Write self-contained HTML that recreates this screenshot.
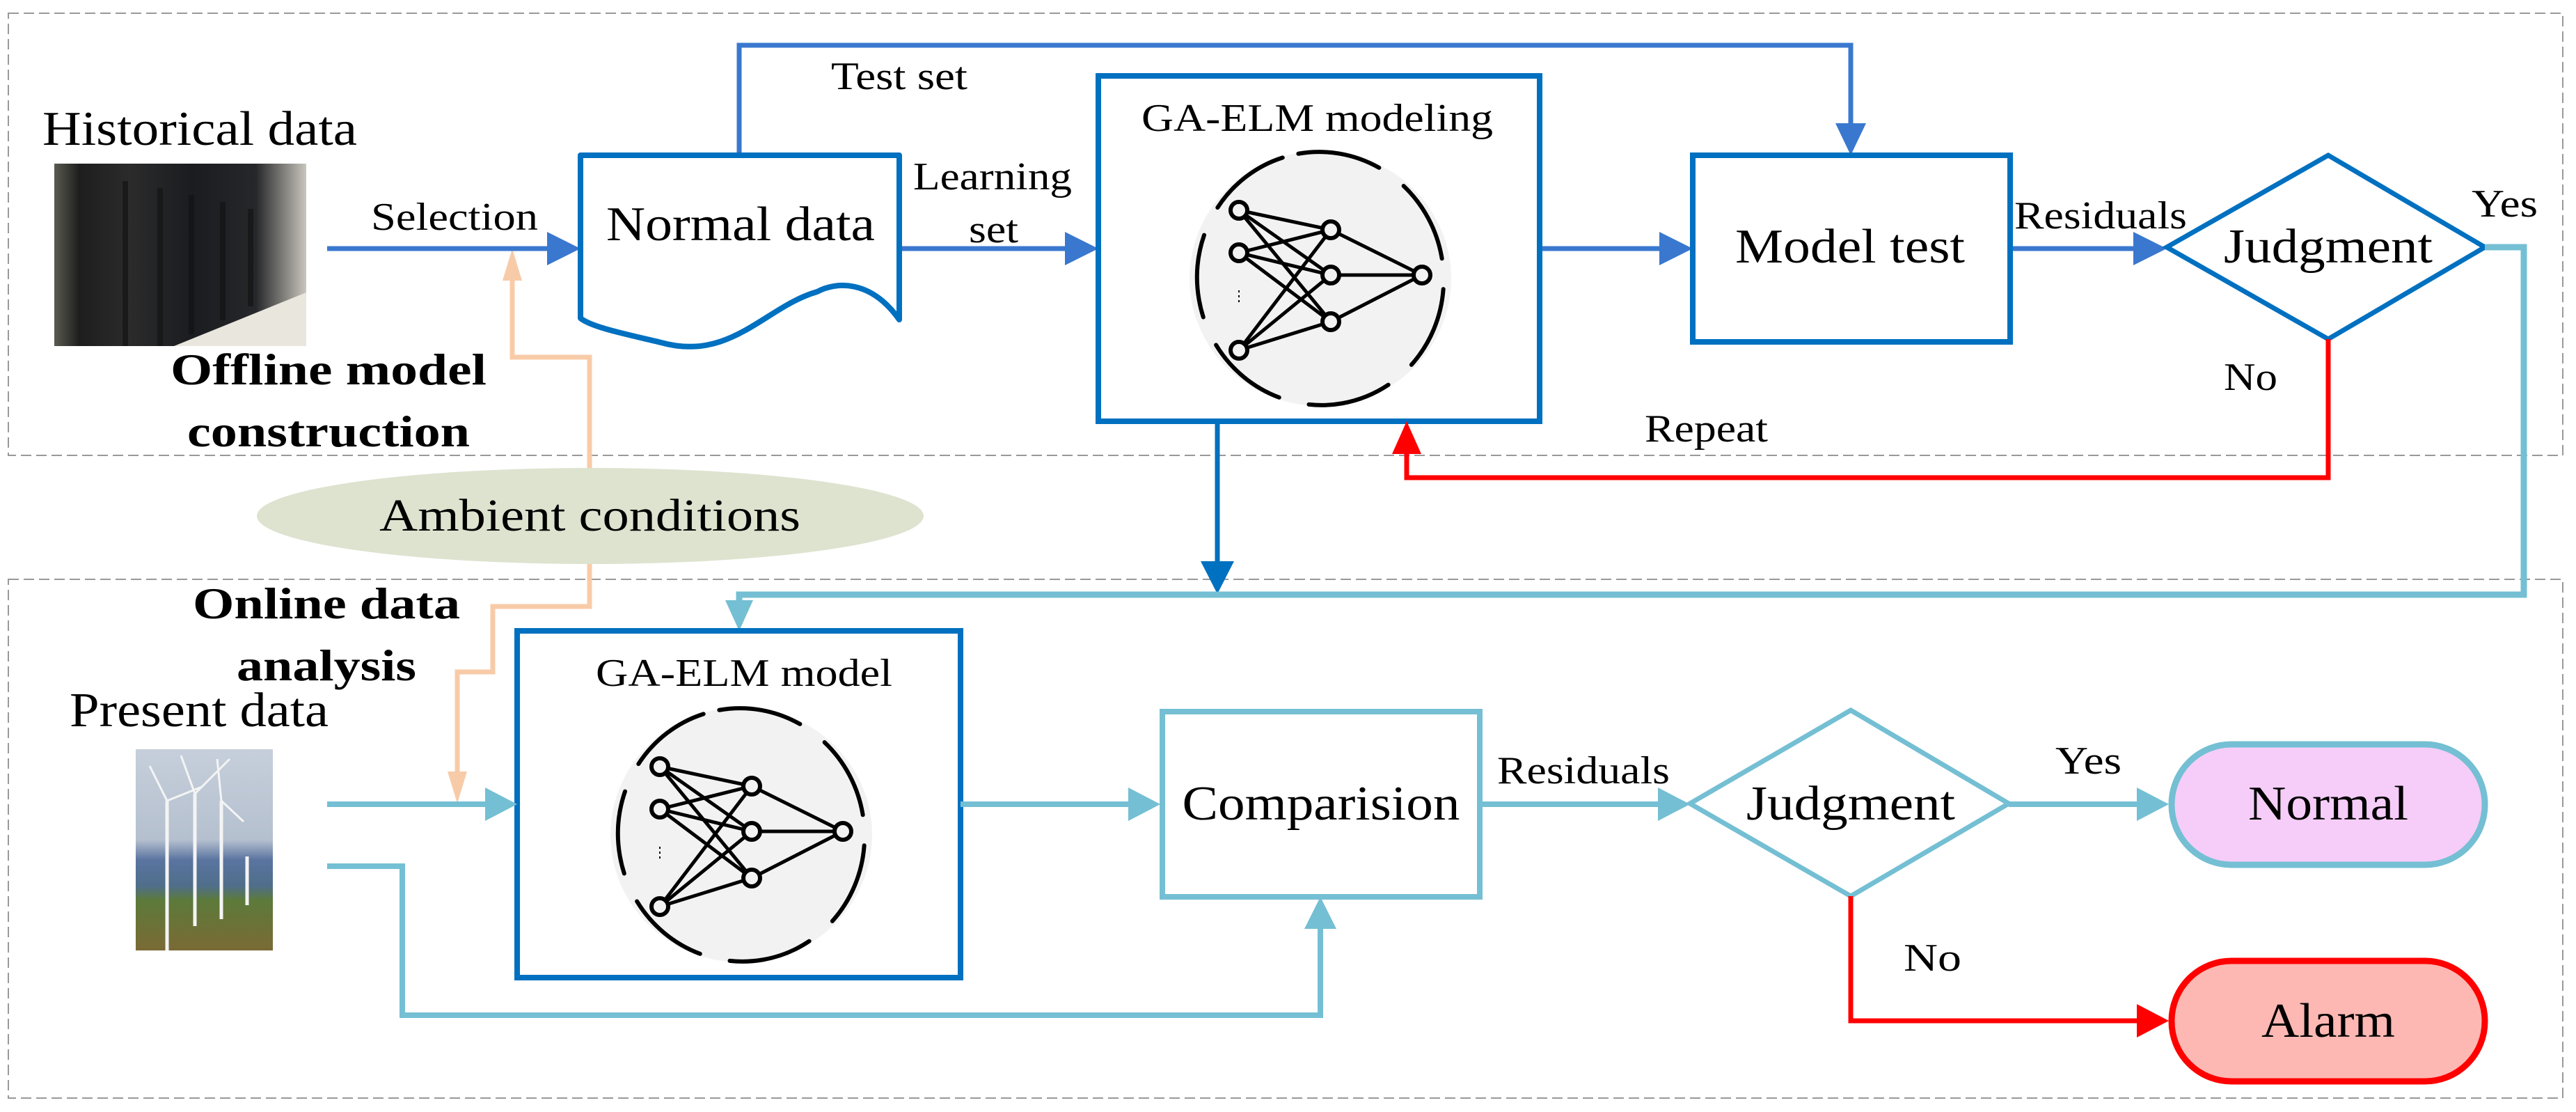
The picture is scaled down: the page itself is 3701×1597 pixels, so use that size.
<!DOCTYPE html>
<html><head><meta charset="utf-8"><style>html,body{margin:0;padding:0;background:#fff}svg{display:block}text{font-family:"Liberation Serif",serif;fill:#000}</style></head><body>
<svg width="3701" height="1597" viewBox="0 0 3701 1597" xmlns="http://www.w3.org/2000/svg">
<defs>
<linearGradient id="srv" x1="0" y1="0" x2="1" y2="0">
<stop offset="0" stop-color="#5a5a50"/><stop offset="0.1" stop-color="#1e1e1e"/><stop offset="0.3" stop-color="#2b2b2b"/><stop offset="0.55" stop-color="#1a1c20"/><stop offset="0.8" stop-color="#26272a"/><stop offset="1" stop-color="#c9c6bc"/>
</linearGradient>
<linearGradient id="wind" x1="0" y1="0" x2="0" y2="1">
<stop offset="0" stop-color="#c6cfdb"/><stop offset="0.45" stop-color="#b5c0cf"/><stop offset="0.55" stop-color="#5a74a0"/><stop offset="0.68" stop-color="#4f6e8a"/><stop offset="0.75" stop-color="#5c7a3a"/><stop offset="1" stop-color="#7a6a35"/>
</linearGradient>
<g id="nn">
<ellipse cx="0" cy="0" rx="188" ry="183" fill="#f2f2f2"/>
<ellipse cx="0" cy="0" rx="182" ry="177" fill="none" stroke="#000" stroke-width="6" stroke-linecap="round" stroke-dasharray="120 44" transform="rotate(-100)"/>
<g stroke="#000" stroke-width="5" fill="none">
<path d="M-117 -98L15 -70M-117 -98L15 -5M-117 -98L15 62M-117 -37L15 -70M-117 -37L15 -5M-117 -37L15 62M-117 103L15 -70M-117 103L15 -5M-117 103L15 62M15 -70L146 -5M15 -5L146 -5M15 62L146 -5"/>
</g>
<g fill="#f2f2f2" stroke="#000" stroke-width="6">
<circle cx="-117" cy="-98" r="12"/><circle cx="-117" cy="-37" r="12"/><circle cx="-117" cy="103" r="12"/>
<circle cx="15" cy="-70" r="12"/><circle cx="15" cy="-5" r="12"/><circle cx="15" cy="62" r="12"/>
<circle cx="146" cy="-5" r="12"/>
</g>
<g fill="#000"><rect x="-118" y="17" width="2" height="3"/><rect x="-118" y="24" width="2" height="3"/><rect x="-118" y="31" width="2" height="3"/></g>
</g>
</defs>

<!-- dashed regions -->
<rect x="12" y="19" width="3670" height="635" fill="none" stroke="#999" stroke-width="2" stroke-dasharray="15 7"/>
<rect x="12" y="832" width="3670" height="745" fill="none" stroke="#999" stroke-width="2" stroke-dasharray="15 7"/>

<!-- images -->
<rect x="78" y="235" width="362" height="262" fill="url(#srv)"/>
<g stroke="#111" stroke-width="8" opacity="0.6"><line x1="180" y1="260" x2="180" y2="497"/><line x1="230" y1="270" x2="230" y2="497"/><line x1="275" y1="280" x2="275" y2="480"/><line x1="320" y1="290" x2="320" y2="460"/><line x1="360" y1="300" x2="360" y2="440"/></g>
<polygon points="250,497 440,420 440,497" fill="#e9e6de"/>
<rect x="195" y="1076" width="197" height="289" fill="url(#wind)"/>
<g stroke="#f4f4f4" stroke-width="5"><line x1="240" y1="1150" x2="240" y2="1365"/><line x1="280" y1="1140" x2="280" y2="1330"/><line x1="318" y1="1150" x2="318" y2="1320"/><line x1="355" y1="1230" x2="355" y2="1300"/></g>
<g stroke="#f4f4f4" stroke-width="3"><line x1="240" y1="1150" x2="215" y2="1100"/><line x1="240" y1="1150" x2="290" y2="1130"/><line x1="280" y1="1140" x2="260" y2="1085"/><line x1="280" y1="1140" x2="330" y2="1090"/><line x1="318" y1="1150" x2="350" y2="1180"/><line x1="318" y1="1150" x2="312" y2="1090"/></g>

<!-- texts left -->
<text x="61" y="208" font-size="70" textLength="452" lengthAdjust="spacingAndGlyphs">Historical data</text>
<text x="100" y="1043" font-size="70" textLength="372" lengthAdjust="spacingAndGlyphs">Present data</text>
<text x="245" y="552" font-size="64" font-weight="bold" textLength="454" lengthAdjust="spacingAndGlyphs">Offline model</text>
<text x="269" y="641" font-size="64" font-weight="bold" textLength="406" lengthAdjust="spacingAndGlyphs">construction</text>
<text x="277" y="888" font-size="64" font-weight="bold" textLength="384" lengthAdjust="spacingAndGlyphs">Online data</text>
<text x="340" y="977" font-size="64" font-weight="bold" textLength="258" lengthAdjust="spacingAndGlyphs">analysis</text>

<!-- ambient -->
<ellipse cx="848" cy="741" rx="479" ry="69" fill="#dde3cf"/>
<text x="545" y="762" font-size="66" textLength="605" lengthAdjust="spacingAndGlyphs">Ambient conditions</text>
<g fill="none" stroke="#f8cba8" stroke-width="7">
<polyline points="847,672 847,513 736,513 736,395"/>
<polyline points="847,810 847,871 708,871 708,965 657,965 657,1120"/>
</g>
<polygon points="736,357 722,403 750,403" fill="#f8cba8"/>
<polygon points="657,1154 643,1108 671,1108" fill="#f8cba8"/>

<!-- top flow -->
<g fill="none" stroke="#3a78cf" stroke-width="7">
<line x1="470" y1="357" x2="790" y2="357"/>
<polyline points="1062,223 1062,65 2659,65 2659,185"/>
<line x1="1292" y1="357" x2="1535" y2="357"/>
<line x1="2212" y1="357" x2="2392" y2="357"/>
<line x1="2888" y1="357" x2="3073" y2="357"/>
</g>
<g fill="#3a78cf">
<polygon points="834,357 786,333 786,381"/>
<polygon points="1578,357 1530,333 1530,381"/>
<polygon points="2432,357 2384,333 2384,381"/>
<polygon points="3113,357 3065,333 3065,381"/>
<polygon points="2659,223 2637,177 2681,177"/>
</g>

<!-- normal data doc -->
<path d="M834 223 L1292 223 L1292 459 C1250 400 1200 405 1174 419 C1100 440 1050 520 950 492 C900 480 850 470 834 457 Z" fill="#fff" stroke="#0070c0" stroke-width="8" stroke-linejoin="round"/>
<text x="871" y="345" font-size="70" textLength="386" lengthAdjust="spacingAndGlyphs">Normal data</text>

<text x="533" y="330" font-size="56" textLength="240" lengthAdjust="spacingAndGlyphs">Selection</text>
<text x="1194" y="128" font-size="56" textLength="196" lengthAdjust="spacingAndGlyphs">Test set</text>
<text x="1312" y="272" font-size="56" textLength="228" lengthAdjust="spacingAndGlyphs">Learning</text>
<text x="1392" y="348" font-size="56" textLength="71" lengthAdjust="spacingAndGlyphs">set</text>

<!-- GA-ELM modeling -->
<rect x="1578" y="109" width="634" height="496" fill="#fff" stroke="#0070c0" stroke-width="8"/>
<text x="1640" y="188" font-size="56" textLength="505" lengthAdjust="spacingAndGlyphs">GA-ELM modeling</text>
<use href="#nn" transform="translate(1897,400)"/>

<!-- model test -->
<rect x="2432" y="223" width="456" height="268" fill="#fff" stroke="#0070c0" stroke-width="8"/>
<text x="2658" y="377" font-size="70" text-anchor="middle" textLength="330" lengthAdjust="spacingAndGlyphs">Model test</text>
<text x="2894" y="328" font-size="56" textLength="248" lengthAdjust="spacingAndGlyphs">Residuals</text>

<polygon points="3113,355 3345,223 3570,355 3345,487" fill="#fff" stroke="#0070c0" stroke-width="7"/>
<text x="3345" y="377" font-size="70" text-anchor="middle" textLength="300" lengthAdjust="spacingAndGlyphs">Judgment</text>
<text x="3551" y="311" font-size="56" textLength="95" lengthAdjust="spacingAndGlyphs">Yes</text>
<text x="3195" y="560" font-size="56" textLength="77" lengthAdjust="spacingAndGlyphs">No</text>

<!-- repeat red -->
<polyline points="3345,487 3345,686 2021,686 2021,645" fill="none" stroke="#ff0000" stroke-width="7"/>
<polygon points="2021,605 2000,652 2042,652" fill="#ff0000"/>
<text x="2363" y="634" font-size="56" textLength="177" lengthAdjust="spacingAndGlyphs">Repeat</text>

<!-- blue down -->
<line x1="1749" y1="605" x2="1749" y2="810" stroke="#0070c0" stroke-width="7"/>
<polygon points="1749,853 1725,806 1773,806" fill="#0070c0"/>

<!-- cyan return -->
<polyline points="3570,355 3626,355 3626,854 1062,854 1062,870" fill="none" stroke="#74bfd3" stroke-width="9"/>
<polygon points="1062,906 1042,862 1082,862" fill="#74bfd3"/>

<!-- bottom flow -->
<rect x="743" y="906" width="637" height="498" fill="#fff" stroke="#0070c0" stroke-width="8"/>
<text x="856" y="985" font-size="56" textLength="426" lengthAdjust="spacingAndGlyphs">GA-ELM model</text>
<use href="#nn" transform="translate(1065,1199)"/>

<g fill="none" stroke="#74bfd3" stroke-width="8">
<line x1="470" y1="1155" x2="705" y2="1155"/>
<line x1="1380" y1="1155" x2="1630" y2="1155"/>
<polyline points="470,1244 578,1244 578,1458 1897,1458 1897,1328"/>
<line x1="2127" y1="1155" x2="2390" y2="1155"/>
<line x1="2886" y1="1155" x2="3078" y2="1155"/>
</g>
<g fill="#74bfd3">
<polygon points="743,1155 697,1131 697,1179"/>
<polygon points="1667,1155 1621,1131 1621,1179"/>
<polygon points="1897,1288 1874,1334 1920,1334"/>
<polygon points="2428,1155 2382,1131 2382,1179"/>
<polygon points="3116,1155 3070,1131 3070,1179"/>
</g>

<rect x="1670" y="1022" width="456" height="266" fill="#fff" stroke="#74bfd3" stroke-width="8"/>
<text x="1898" y="1177" font-size="70" text-anchor="middle" textLength="399" lengthAdjust="spacingAndGlyphs">Comparision</text>
<text x="2151" y="1125" font-size="56" textLength="248" lengthAdjust="spacingAndGlyphs">Residuals</text>

<polygon points="2428,1154 2659,1020 2886,1154 2659,1287" fill="#fff" stroke="#74bfd3" stroke-width="7"/>
<text x="2659" y="1177" font-size="70" text-anchor="middle" textLength="300" lengthAdjust="spacingAndGlyphs">Judgment</text>
<text x="2953" y="1111" font-size="56" textLength="95" lengthAdjust="spacingAndGlyphs">Yes</text>

<polyline points="2659,1287 2659,1466 3078,1466" fill="none" stroke="#ff0000" stroke-width="7"/>
<polygon points="3116,1466 3070,1442 3070,1490" fill="#ff0000"/>
<text x="2735" y="1394" font-size="56" textLength="83" lengthAdjust="spacingAndGlyphs">No</text>

<rect x="3120" y="1069" width="450" height="173" rx="86" ry="86" fill="#f5cdf8" stroke="#74bfd3" stroke-width="9"/>
<text x="3345" y="1177" font-size="70" text-anchor="middle" textLength="230" lengthAdjust="spacingAndGlyphs">Normal</text>
<rect x="3120" y="1380" width="450" height="173" rx="86" ry="86" fill="#fdb8b3" stroke="#ff0000" stroke-width="9"/>
<text x="3345" y="1489" font-size="70" text-anchor="middle" textLength="192" lengthAdjust="spacingAndGlyphs">Alarm</text>
</svg>
</body></html>
